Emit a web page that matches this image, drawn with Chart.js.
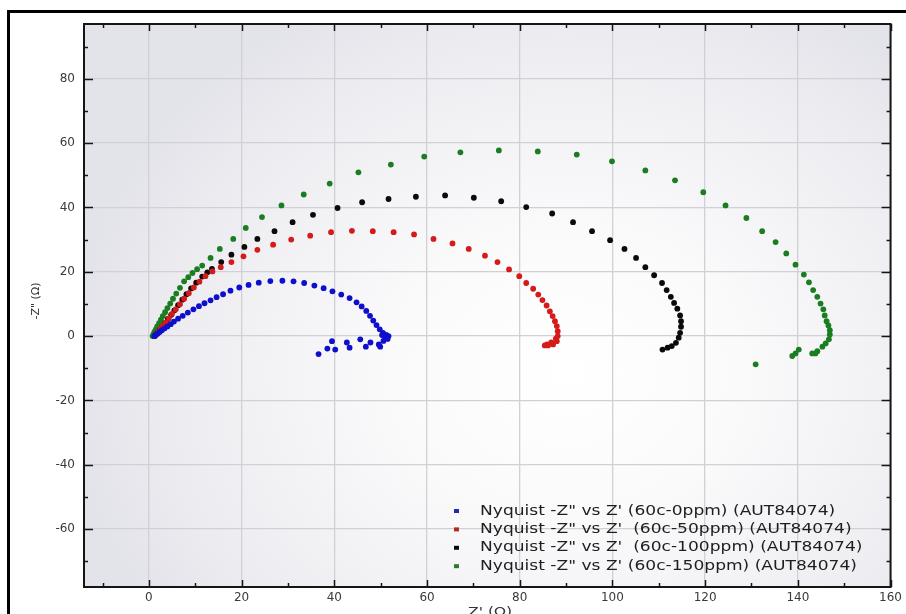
<!DOCTYPE html>
<html>
<head>
<meta charset="utf-8">
<title>Nyquist</title>
<script src="https://cdn.jsdelivr.net/npm/chart.js@4.4.1/dist/chart.umd.min.js"></script>
<style>
    html, body { margin: 0; padding: 0; background: #fff; }
    #wrap { position: relative; width: 906px; height: 614px; overflow: hidden; }
    canvas { display: block; }
</style>
</head>
<body>
<div id="wrap"><canvas id="nyquist" width="906" height="614"></canvas></div>
<script>
// Z' and -Z'' readings, one pair of arrays per run
const zre0 = [1.2, 1.5, 1.9, 2.3, 2.8, 3.4, 4.0, 4.7, 5.4, 6.3, 7.3, 8.4, 9.6, 10.8, 12.0, 13.3, 14.6, 16.0, 17.6, 19.5,
    21.5, 23.7, 26.2, 28.8, 31.2, 33.5, 35.7, 37.7, 39.6, 41.5, 43.3, 44.8, 45.9, 46.9, 47.7, 48.4, 49.1, 49.8, 50.5, 51.2,
    51.7, 50.3, 51.0, 51.5, 50.6, 49.6, 49.9, 47.8, 46.8, 45.6, 43.3, 42.7, 40.2, 39.5, 38.5, 36.6];
const zim0 = [0.0, 0.4, 0.8, 1.3, 1.8, 2.4, 3.0, 3.7, 4.5, 5.4, 6.3, 7.3, 8.3, 9.3, 10.2, 11.1, 12.1, 13.0, 14.1, 15.1,
    15.9, 16.6, 17.1, 17.2, 17.0, 16.5, 15.7, 14.9, 13.9, 12.9, 11.8, 10.5, 9.2, 7.8, 6.3, 4.8, 3.4, 2.1, 1.0, 0.4,
    0.0, 0.3, -0.5, -0.9, -1.5, -2.6, -3.3, -2.0, -3.3, -1.0, -3.6, -2.0, -4.2, -1.6, -3.9, -5.6];

const zre50 = [1.3, 1.6, 2.0, 2.5, 3.0, 3.6, 4.3, 5.0, 5.8, 6.7, 7.6, 8.6, 9.7, 10.9, 12.2, 13.7, 15.5, 17.8, 20.4, 23.4,
    26.8, 30.7, 34.8, 39.3, 43.8, 48.3, 52.8, 57.2, 61.4, 65.5, 69.0, 72.5, 75.2, 77.7, 79.9, 81.4, 82.9, 84.0, 84.9, 85.8,
    86.5, 87.1, 87.6, 88.0, 88.2, 88.2, 87.8, 88.0, 87.2, 86.8, 86.1, 85.9, 85.4];
const zim50 = [0.0, 0.6, 1.3, 2.2, 3.1, 4.2, 5.5, 6.9, 8.3, 9.9, 11.6, 13.3, 15.1, 16.9, 18.6, 20.1, 21.4, 23.0, 24.8, 26.8,
    28.4, 30.0, 31.2, 32.3, 32.7, 32.6, 32.3, 31.6, 30.2, 28.8, 27.1, 25.0, 23.0, 20.7, 18.6, 16.5, 14.7, 12.9, 11.2, 9.5,
    7.7, 6.2, 4.6, 3.1, 1.5, 0.0, -0.8, -1.6, -2.6, -2.0, -2.9, -2.6, -2.9];

const zre100 = [1.2, 1.5, 1.9, 2.4, 2.9, 3.5, 4.1, 4.8, 5.5, 6.3, 7.2, 8.1, 9.1, 10.2, 11.5, 12.6, 13.6, 15.6, 17.8, 20.6,
    23.4, 27.1, 31.0, 35.4, 40.7, 46.0, 51.7, 57.6, 63.9, 70.1, 76.0, 81.4, 87.0, 91.5, 95.6, 99.5, 102.6, 105.1, 107.1, 109.0,
    110.7, 111.7, 112.6, 113.3, 114.0, 114.6, 114.8, 114.8, 114.6, 114.3, 113.7, 112.8, 111.9, 110.8];
const zim100 = [0.0, 0.5, 1.1, 2.0, 2.8, 4.0, 5.3, 6.6, 8.0, 9.6, 11.3, 13.0, 14.8, 16.6, 18.5, 19.8, 20.9, 23.0, 25.3, 27.7,
    30.2, 32.6, 35.4, 37.7, 39.8, 41.6, 42.6, 43.3, 43.7, 43.0, 41.9, 40.1, 38.1, 35.4, 32.6, 29.8, 27.1, 24.3, 21.4, 18.9,
    16.5, 14.3, 12.2, 10.3, 8.5, 6.4, 4.6, 2.9, 1.0, -0.5, -2.1, -3.1, -3.6, -4.2];

const zre150 = [0.8, 1.0, 1.2, 1.5, 1.8, 2.2, 2.6, 3.0, 3.5, 4.0, 4.6, 5.2, 5.9, 6.7, 7.6, 8.5, 9.4, 10.4, 11.5, 13.3,
    15.3, 18.2, 20.9, 24.4, 28.6, 33.4, 39.0, 45.2, 52.2, 59.4, 67.2, 75.5, 83.9, 92.3, 99.9, 107.1, 113.5, 119.6, 124.4, 128.9,
    132.3, 135.2, 137.5, 139.5, 141.3, 142.4, 143.3, 144.2, 144.9, 145.5, 145.8, 146.2, 146.6, 146.9, 146.9, 146.7, 146.0, 145.3, 144.2, 143.8,
    143.1, 140.2, 139.5, 138.8, 130.9];
const zim150 = [0.0, 0.6, 1.3, 2.1, 3.0, 4.0, 5.1, 6.2, 7.4, 8.7, 10.1, 11.6, 13.2, 15.0, 17.0, 18.3, 19.6, 20.8, 21.9, 24.3,
    27.1, 30.2, 33.6, 37.0, 40.6, 44.0, 47.4, 50.9, 53.3, 55.8, 57.1, 57.7, 57.4, 56.4, 54.3, 51.5, 48.4, 44.7, 40.6, 36.7,
    32.6, 29.2, 25.7, 22.2, 19.1, 16.7, 14.3, 12.2, 10.1, 8.3, 6.4, 4.6, 3.3, 1.8, 0.5, -1.0, -2.3, -3.3, -4.7, -5.4,
    -5.4, -4.2, -5.4, -6.2, -8.8];

const seriesNames = [
    'Nyquist -Z" vs Z\' (60c-0ppm) (AUT84074)',
    'Nyquist -Z" vs Z\'  (60c-50ppm) (AUT84074)',
    'Nyquist -Z" vs Z\'  (60c-100ppm) (AUT84074)',
    'Nyquist -Z" vs Z\' (60c-150ppm) (AUT84074)'
];
const seriesColors = ['rgb(14,14,205)', 'rgb(214,26,26)', 'rgb(10,10,10)', 'rgb(26,126,32)'];
const legendColors = ['rgb(40,40,170)', 'rgb(180,40,40)', 'rgb(10,10,10)', 'rgb(45,120,45)'];

const xTicks = [0, 20, 40, 60, 80, 100, 120, 140, 160];
const yTicks = [-60, -40, -20, 0, 20, 40, 60, 80];
const xMinor = [-10, 0, 10, 20, 30, 40, 50, 60, 70, 80, 90, 100, 110, 120, 130, 140, 150, 160];
const yMinor = [-70, -60, -50, -40, -30, -20, -10, 0, 10, 20, 30, 40, 50, 60, 70, 80, 90];

const FONT = 'DejaVu Sans';

function toPoints(xs, ys) {
    return xs.map((x, i) => ({ x, y: ys[i] }));
}

// plot background: soft grey edges fading to white near the middle
const plotBackground = {
    id: 'plotBackground',
    beforeDraw(chart) {
        const { ctx, chartArea: a } = chart;
        ctx.save();
        ctx.fillStyle = '#fff';
        ctx.fillRect(0, 0, chart.width, chart.height);
        const cx = a.left + a.width * 0.6;
        const cy = a.top + a.height * 0.62;
        const sx = a.width * 0.62;
        const sy = a.height * 0.75;
        ctx.translate(cx, cy);
        ctx.scale(sx, sy);
        const g = ctx.createRadialGradient(0, 0, 0, 0, 0, 1);
        g.addColorStop(0, '#ffffff');
        g.addColorStop(0.35, '#fafafb');
        g.addColorStop(0.75, '#eeeef2');
        g.addColorStop(1, '#e3e3ea');
        ctx.fillStyle = g;
        ctx.fillRect((a.left - cx) / sx, (a.top - cy) / sy, a.width / sx, a.height / sy);
        ctx.restore();
    }
};

// axis box with inward ticks on all four sides, titles, legend and outer frame
const decorations = {
    id: 'decorations',
    afterDraw(chart) {
        const { ctx, chartArea: a, scales } = chart;
        ctx.save();

        ctx.strokeStyle = '#151515';
        ctx.lineWidth = 2;
        ctx.strokeRect(a.left, a.top, a.width, a.height);

        ctx.lineWidth = 1.5;
        ctx.beginPath();
        xMinor.forEach(v => {
            const px = Math.round(scales.x.getPixelForValue(v)) + 0.5;
            const len = v % 20 === 0 ? 7 : 4;
            ctx.moveTo(px, a.bottom); ctx.lineTo(px, a.bottom - len);
            ctx.moveTo(px, a.top); ctx.lineTo(px, a.top + len);
        });
        yMinor.forEach(v => {
            const py = Math.round(scales.y.getPixelForValue(v)) + 0.5;
            const len = v % 20 === 0 ? 9 : 4;
            ctx.moveTo(a.left, py); ctx.lineTo(a.left + len, py);
            ctx.moveTo(a.right, py); ctx.lineTo(a.right - len, py);
        });
        ctx.stroke();

        // axis titles
        ctx.fillStyle = '#333';
        ctx.textAlign = 'center';
        ctx.textBaseline = 'middle';
        ctx.font = '11px "' + FONT + '"';
        ctx.save();
        ctx.translate(36, 301);
        ctx.rotate(-Math.PI / 2);
        ctx.fillText('-Z" (Ω)', 0, 0);
        ctx.restore();
        ctx.save();
        ctx.translate(490, 613);
        ctx.scale(1.2, 1);
        ctx.font = '13px "' + FONT + '"';
        ctx.fillText("Z' (Ω)", 0, 0);
        ctx.restore();

        // legend
        ctx.textAlign = 'left';
        ctx.font = '14px "' + FONT + '"';
        chart.data.datasets.forEach((ds, i) => {
            const y = 511 + i * 18.4;
            ctx.fillStyle = legendColors[i];
            ctx.fillRect(454, y - 2, 5, 4);
            ctx.fillStyle = '#1e1e1e';
            ctx.save();
            ctx.translate(480, y);
            ctx.scale(1.22, 1);
            ctx.fillText(ds.label, 0, 0);
            ctx.restore();
        });

        // outer frame
        ctx.fillStyle = '#000';
        ctx.fillRect(7, 10, 3, chart.height);
        ctx.fillRect(7, 10, chart.width, 3);
        ctx.restore();
    }
};

const ctx = document.getElementById('nyquist');

new Chart(ctx, {
    type: 'scatter',
    data: {
        datasets: [
            { label: seriesNames[0], data: toPoints(zre0, zim0) },
            { label: seriesNames[1], data: toPoints(zre50, zim50) },
            { label: seriesNames[2], data: toPoints(zre100, zim100) },
            { label: seriesNames[3], data: toPoints(zre150, zim150) }
        ].map((ds, i) => ({
            ...ds,
            backgroundColor: seriesColors[i],
            borderColor: seriesColors[i],
            pointRadius: 2.9,
            pointBorderWidth: 0,
            showLine: false
        }))
    },
    options: {
        responsive: false,
        animation: false,
        layout: { padding: { top: 24, right: 13, left: 0, bottom: 0 } },
        plugins: {
            legend: { display: false },
            tooltip: { enabled: false }
        },
        scales: {
            x: {
                type: 'linear',
                min: -14,
                max: 160,
                afterBuildTicks: s => { s.ticks = xTicks.map(v => ({ value: v })); },
                afterFit: s => { s.height = 27; },
                grid: { color: '#d0d0d6', lineWidth: 1.3, drawTicks: false },
                border: { display: false },
                ticks: {
                    autoSkip: false,
                    maxRotation: 0,
                    padding: 4,
                    color: '#3a3a3a',
                    font: { family: FONT, size: 12 }
                }
            },
            y: {
                type: 'linear',
                min: -78,
                max: 97,
                afterBuildTicks: s => { s.ticks = yTicks.map(v => ({ value: v })); },
                afterFit: s => { s.width = 84; },
                grid: { color: '#d0d0d6', lineWidth: 1.3, drawTicks: false },
                border: { display: false },
                ticks: {
                    autoSkip: false,
                    padding: 9,
                    color: '#3a3a3a',
                    font: { family: FONT, size: 12 }
                }
            }
        }
    },
    plugins: [plotBackground, decorations]
});
</script>
</body>
</html>
